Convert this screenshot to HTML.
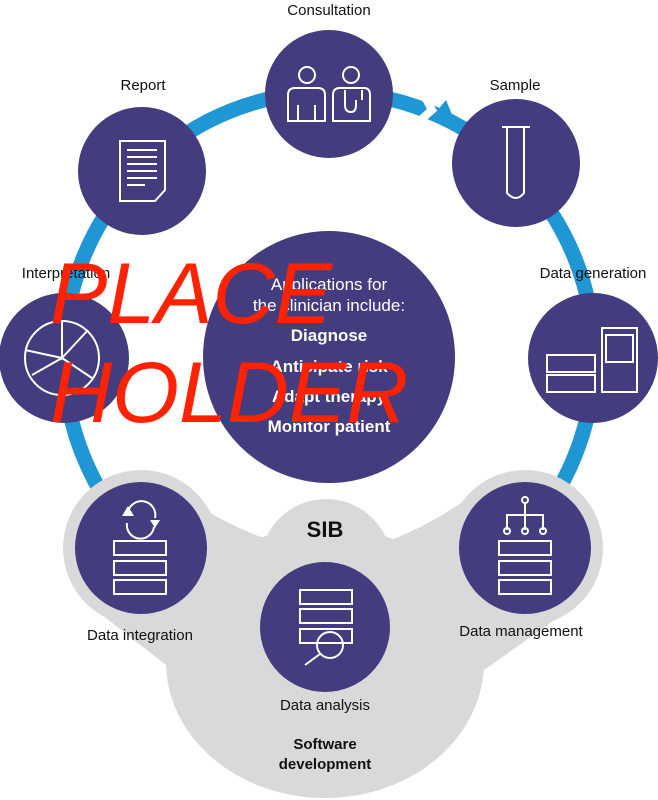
<!DOCTYPE html>
<html><head><meta charset="utf-8"><style>
html,body{margin:0;padding:0;background:#fff;}
svg{display:block;font-family:"Liberation Sans",sans-serif;}
</style></head><body>
<svg width="658" height="800" viewBox="0 0 658 800">
<!-- blue ring -->
<circle cx="329" cy="357" r="265" fill="none" stroke="#1f97d4" stroke-width="15"/>
<polyline points="418,84 432,110 416,124" fill="none" stroke="#fff" stroke-width="8"/>
<polygon points="436,112 446,100 460,134" fill="#1f97d4"/>

<!-- gray SIB region -->
<g fill="#d9d9d9">
<circle cx="141" cy="548" r="78"/>
<circle cx="525" cy="548" r="78"/>
<circle cx="326" cy="565" r="66"/>
<ellipse cx="325" cy="662" rx="159" ry="136"/>
<path d="M83,600 L166,665 L484,670 L583,600 L570,520 L470,497 Q430,525 391,540 L261,537 Q220,522 180,493 L100,500 Z"/>
</g>

<!-- circles -->
<g fill="#433c7e">
<circle cx="329" cy="94" r="64"/>
<circle cx="142" cy="171" r="64"/>
<circle cx="516" cy="163" r="64"/>
<circle cx="64" cy="358" r="65"/>
<circle cx="593" cy="358" r="65"/>
<circle cx="329" cy="357" r="126"/>
<circle cx="141" cy="548" r="66"/>
<circle cx="525" cy="548" r="66"/>
<circle cx="325" cy="627" r="65"/>
</g>

<!-- icons -->
<g fill="none" stroke="#fff" stroke-width="2">
<g>
<circle cx="307" cy="75" r="8"/><path d="M288,121 V95 Q288,88 295,88 H318 Q325,88 325,95 V121 Z M298,121 V105 M315,121 V105"/>
<circle cx="351" cy="75" r="8"/><path d="M333,121 V95 Q333,88 340,88 H364 Q370,88 370,95 V121 Z M345,90 V105 Q345,112 351,112 Q356,112 356,105 V100 M362,90 V100"/>
</g>
<g>
<path d="M120,141 H165 V190 L155,201 H120 Z"/>
<path d="M127,150 H157 M127,157 H157 M127,164 H157 M127,171 H157 M127,178 H157 M127,185 H145"/>
</g>
<g>
<path d="M502,127 H530 M507,127 V193 Q516,203 524,193 V127"/>
</g>
<g>
<circle cx="62" cy="358" r="37"/>
<path d="M62,321 V358 L88,330 M62,358 L92,378 M62,358 L32,375 M62,358 L25,350"/>
</g>
<g>
<rect x="547" y="355" width="48" height="17"/><rect x="547" y="375" width="48" height="17"/>
<rect x="602" y="328" width="35" height="64"/><rect x="606" y="335" width="27" height="27"/>
</g>
<g>
<rect x="114" y="541" width="52" height="14"/><rect x="114" y="561" width="52" height="14"/><rect x="114" y="580" width="52" height="14"/>
<path d="M128,512 A13,13 0 0 1 155,518 M154,527 A13,13 0 0 1 127,523"/>
</g>
<g>
<rect x="499" y="541" width="52" height="14"/><rect x="499" y="561" width="52" height="14"/><rect x="499" y="580" width="52" height="14"/>
<path d="M525,503 V530 M507,530 V515 H543 V530"/><circle cx="525" cy="500" r="3"/><circle cx="507" cy="531" r="3"/><circle cx="525" cy="531" r="3"/><circle cx="543" cy="531" r="3"/>
</g>
<g>
<rect x="300" y="590" width="52" height="14"/><rect x="300" y="609" width="52" height="14"/><rect x="300" y="629" width="52" height="14"/>
<circle cx="330" cy="645" r="13"/><path d="M320,654 L305,665"/>
</g>
</g>
<path d="M122,516 L128,506 L134,516 Z M150,520 L160,520 L155,528 Z" fill="#fff"/>

<!-- labels -->
<g font-size="15" fill="#111" text-anchor="middle">
<text x="329" y="15">Consultation</text>
<text x="143" y="90">Report</text>
<text x="515" y="90">Sample</text>
<text x="66" y="278">Interpretation</text>
<text x="593" y="278">Data generation</text>
<text x="140" y="640">Data integration</text>
<text x="521" y="636">Data management</text>
<text x="325" y="710">Data analysis</text>
<text x="325" y="537" font-size="22" font-weight="bold">SIB</text>
<text x="325" y="749" font-weight="bold">Software</text>
<text x="325" y="769" font-weight="bold">development</text>
</g>
<g font-size="17" fill="#fff" text-anchor="middle">
<text x="329" y="290">Applications for</text>
<text x="329" y="311">the clinician include:</text>
<text x="329" y="341" font-weight="bold">Diagnose</text>
<text x="329" y="372" font-weight="bold">Anticipate risk</text>
<text x="329" y="402" font-weight="bold">Adapt therapy</text>
<text x="329" y="432" font-weight="bold">Monitor patient</text>
</g>
<g font-size="86" font-style="italic" fill="#ff2200">
<text x="50" y="323">PLACE</text>
<text x="50" y="422">HOLDER</text>
</g>
</svg>
</body></html>
